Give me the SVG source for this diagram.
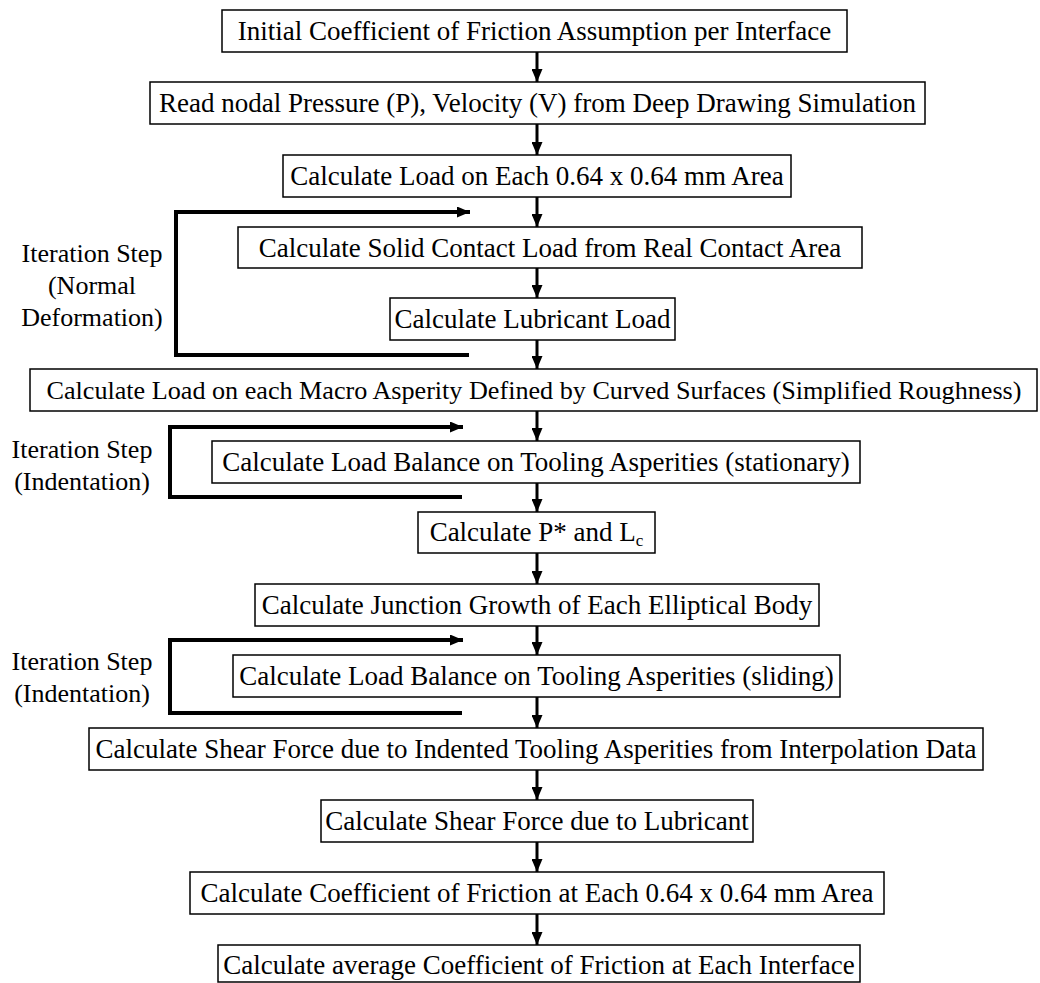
<svg xmlns="http://www.w3.org/2000/svg" width="1040" height="983" viewBox="0 0 1040 983">
<style>
.box{fill:#fff;stroke:#000;stroke-width:1.5}
.t{font-family:"Liberation Serif","Times New Roman",serif;font-size:27px;fill:#000;text-anchor:middle}
.lbl{font-family:"Liberation Serif","Times New Roman",serif;font-size:26px;fill:#000;text-anchor:middle}
.arr{stroke:#000;stroke-width:3;fill:none}
.loop{stroke:#000;stroke-width:4;fill:none}
</style>
<defs>
<marker id="ah" viewBox="0 0 13 11" refX="13" refY="5.5" markerWidth="13" markerHeight="11" markerUnits="userSpaceOnUse" orient="auto">
<path d="M0,0 L13,5.5 L0,11 Z" fill="#000"/>
</marker>
</defs>
<rect width="1040" height="983" fill="#fff"/>
<g id="connectors">
<line class="arr" x1="537" y1="52" x2="537" y2="82" marker-end="url(#ah)"/>
<line class="arr" x1="537" y1="124" x2="537" y2="155" marker-end="url(#ah)"/>
<line class="arr" x1="537" y1="197" x2="537" y2="227" marker-end="url(#ah)"/>
<line class="arr" x1="537" y1="268" x2="537" y2="298" marker-end="url(#ah)"/>
<line class="arr" x1="537" y1="340" x2="537" y2="369" marker-end="url(#ah)"/>
<line class="arr" x1="537" y1="411" x2="537" y2="441" marker-end="url(#ah)"/>
<line class="arr" x1="537" y1="483" x2="537" y2="512" marker-end="url(#ah)"/>
<line class="arr" x1="537" y1="553" x2="537" y2="584" marker-end="url(#ah)"/>
<line class="arr" x1="537" y1="626" x2="537" y2="655" marker-end="url(#ah)"/>
<line class="arr" x1="537" y1="697" x2="537" y2="728" marker-end="url(#ah)"/>
<line class="arr" x1="537" y1="770" x2="537" y2="800" marker-end="url(#ah)"/>
<line class="arr" x1="537" y1="842" x2="537" y2="872" marker-end="url(#ah)"/>
<line class="arr" x1="537" y1="914" x2="537" y2="945" marker-end="url(#ah)"/>
<path class="loop" d="M469,355 H176 V212 H470" marker-end="url(#ah)"/>
<path class="loop" d="M462,497 H170 V427 H463" marker-end="url(#ah)"/>
<path class="loop" d="M462,713 H170 V640 H463" marker-end="url(#ah)"/>
</g>
<g id="label-loop1">
<text class="lbl" x="92" y="262">Iteration Step</text>
<text class="lbl" x="92" y="294">(Normal</text>
<text class="lbl" x="92" y="326">Deformation)</text>
</g>
<g id="label-loop2">
<text class="lbl" x="82" y="458">Iteration Step</text>
<text class="lbl" x="82" y="490">(Indentation)</text>
</g>
<g id="label-loop3">
<text class="lbl" x="82" y="670">Iteration Step</text>
<text class="lbl" x="82" y="702">(Indentation)</text>
</g>
<g id="n1"><rect class="box" x="222" y="10" width="625" height="42"/><text class="t" x="534.5" y="40">Initial Coefficient of Friction Assumption per Interface</text></g>
<g id="n2"><rect class="box" x="150" y="82" width="775" height="42"/><text class="t" x="537.5" y="112">Read nodal Pressure (P), Velocity (V) from Deep Drawing Simulation</text></g>
<g id="n3"><rect class="box" x="283" y="155" width="508" height="42"/><text class="t" x="537" y="185">Calculate Load on Each 0.64 x 0.64 mm Area</text></g>
<g id="n4"><rect class="box" x="238" y="227" width="624" height="41"/><text class="t" x="550" y="257">Calculate Solid Contact Load from Real Contact Area</text></g>
<g id="n5"><rect class="box" x="390" y="298" width="285" height="42"/><text class="t" x="532.5" y="328">Calculate Lubricant Load</text></g>
<g id="n6"><rect class="box" x="30" y="369" width="1007" height="42"/><text class="t" x="534" y="399" font-size="26" textLength="975" lengthAdjust="spacingAndGlyphs" style="font-size:26px">Calculate Load on each Macro Asperity Defined by Curved Surfaces (Simplified Roughness)</text></g>
<g id="n7"><rect class="box" x="212" y="441" width="648" height="42"/><text class="t" x="536" y="471">Calculate Load Balance on Tooling Asperities (stationary)</text></g>
<g id="n8"><rect class="box" x="418" y="512" width="237" height="41"/><text class="t" x="536.5" y="541">Calculate P* and L<tspan font-size="17" dy="5">c</tspan></text></g>
<g id="n9"><rect class="box" x="255" y="584" width="564" height="42"/><text class="t" x="537" y="614">Calculate Junction Growth of Each Elliptical Body</text></g>
<g id="n10"><rect class="box" x="233" y="655" width="607" height="42"/><text class="t" x="536.5" y="685">Calculate Load Balance on Tooling Asperities (sliding)</text></g>
<g id="n11"><rect class="box" x="89" y="728" width="894" height="42"/><text class="t" x="536" y="758">Calculate Shear Force due to Indented Tooling Asperities from Interpolation Data</text></g>
<g id="n12"><rect class="box" x="321" y="800" width="432" height="42"/><text class="t" x="537" y="830">Calculate Shear Force due to Lubricant</text></g>
<g id="n13"><rect class="box" x="190" y="872" width="694" height="42"/><text class="t" x="537" y="902">Calculate Coefficient of Friction at Each 0.64 x 0.64 mm Area</text></g>
<g id="n14"><rect class="box" x="218" y="945" width="642" height="37"/><text class="t" x="539" y="974">Calculate average Coefficient of Friction at Each Interface</text></g>
</svg>
